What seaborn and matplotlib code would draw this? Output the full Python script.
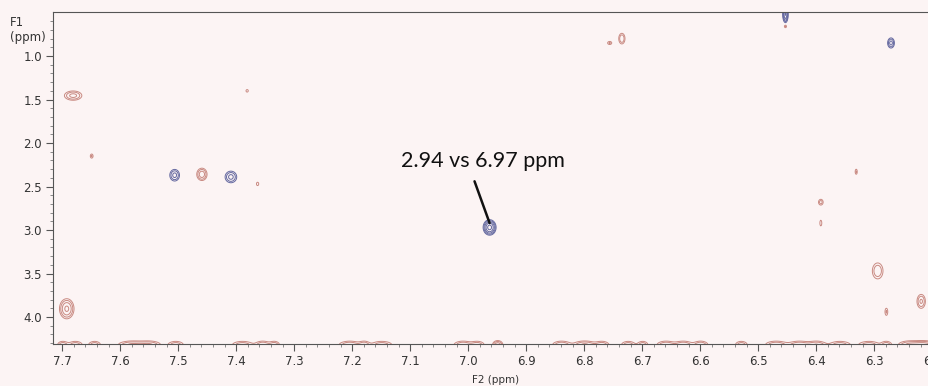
import numpy as np
import matplotlib
matplotlib.use("Agg")
import matplotlib.pyplot as plt
import seaborn as sns

# ---- data: cross peaks (F2 ppm, F1 ppm, sigma F2, sigma F1, amplitude) ----
red_f2  = [7.681, 7.692, 7.649, 7.459, 7.381, 6.735, 6.756, 6.453, 6.392, 6.392, 6.331, 6.294, 6.279, 6.219, 6.200, 7.363]
red_f1  = [1.455, 3.905, 2.150, 2.360, 1.400, 0.800, 0.850, 0.660, 2.680, 2.920, 2.330, 3.470, 3.940, 3.820, 1.610, 2.470]
red_sx  = [0.009, 0.0065, 0.002, 0.005, 0.002, 0.0035, 0.003, 0.0015, 0.003, 0.0015, 0.0015, 0.006, 0.002, 0.0045, 0.002, 0.002]
red_sy  = [0.032, 0.060, 0.020, 0.040, 0.015, 0.040, 0.015, 0.012, 0.025, 0.030, 0.025, 0.060, 0.035, 0.050, 0.030, 0.020]
red_amp = [1.0, 1.6, 0.5, 1.2, 0.4, 0.8, 0.5, 0.5, 0.6, 0.45, 0.5, 0.8, 0.5, 0.9, 0.5, 0.4]

blue_f2  = [6.963, 7.506, 7.409, 6.271, 6.453]
blue_f1  = [2.970, 2.370, 2.390, 0.850, 0.520]
blue_sx  = [0.005, 0.005, 0.006, 0.0035, 0.0022]
blue_sy  = [0.040, 0.040, 0.040, 0.035, 0.045]
blue_amp = [3.0, 1.0, 1.0, 1.0, 2.5]

# baseline (t1-noise) ridges along the bottom edge
base_f2  = [7.699, 7.677, 7.644, 7.579, 7.549, 7.504, 7.389, 7.354, 7.334,
            7.204, 7.179, 7.149, 7.009, 6.984, 6.949, 6.839, 6.799, 6.769,
            6.724, 6.699, 6.659, 6.629, 6.599, 6.529, 6.469, 6.429, 6.399,
            6.359, 6.309, 6.279, 6.239, 6.214]
base_sx  = [0.006, 0.008, 0.007, 0.015, 0.012, 0.009, 0.012, 0.008, 0.006,
            0.012, 0.006, 0.012, 0.010, 0.008, 0.005, 0.010, 0.012, 0.008,
            0.008, 0.006, 0.010, 0.010, 0.008, 0.007, 0.012, 0.012, 0.010,
            0.012, 0.012, 0.006, 0.012, 0.012]
base_amp = [0.7, 0.7, 0.7, 0.9, 0.8, 0.7, 0.7, 0.8, 0.7,
            0.8, 0.7, 0.7, 0.8, 0.7, 1.2, 0.8, 0.9, 0.7,
            0.7, 0.7, 0.8, 0.8, 0.8, 0.7, 0.8, 0.8, 0.8,
            0.7, 0.7, 0.7, 0.9, 1.1]

x_ticks = [7.7, 7.6, 7.5, 7.4, 7.3, 7.2, 7.1, 7.0, 6.9, 6.8, 6.7, 6.6, 6.5, 6.4, 6.3, 6.2]
y_ticks = [1.0, 1.5, 2.0, 2.5, 3.0, 3.5, 4.0]
annot_text = "2.94 vs 6.97 ppm"
annot_peak = (6.963, 2.92)
annot_line_start = (6.989, 2.44)
annot_text_pos = (6.975, 2.21)

# ---- figure ----
sns.set_style("ticks")
plt.rcParams['font.family'] = ['DejaVu Sans']
bg = "#fcf4f4"
fig = plt.figure(figsize=(9.29, 3.86), dpi=100, facecolor=bg)
ax = fig.add_axes([53/929, 1 - 344/386, 1 - 53/929 + 0.01, (344 - 12)/386])
ax.set_facecolor(bg)

gx = np.linspace(6.15, 7.75, 1600)
gy = np.linspace(0.40, 4.40, 900)
X, Y = np.meshgrid(gx, gy)

def surface(f2, f1, sx, sy, amp):
    Z = np.zeros_like(X)
    for a, b, c, d, e in zip(f2, f1, sx, sy, amp):
        Z += e * np.exp(-((X - a) ** 2 / (2 * c ** 2) + (Y - b) ** 2 / (2 * d ** 2)))
    return Z

Zr = surface(red_f2, red_f1, red_sx, red_sy, red_amp)
Zr += surface(base_f2, [4.32] * len(base_f2), base_sx, [0.028] * len(base_f2), base_amp)
Zb = surface(blue_f2, blue_f1, blue_sx, blue_sy, blue_amp)

levels = [0.25, 0.45, 0.8, 1.4, 2.4]
ax.contour(X, Y, Zr, levels=levels, colors="#c98a82", linewidths=0.7)
ax.contour(X, Y, Zb, levels=levels, colors="#6569a0", linewidths=0.7)

ax.set_xlim(7.7157, 6.1895)
ax.set_ylim(4.31, 0.494)

ax.set_xticks(x_ticks)
ax.set_xticklabels([f"{v:.1f}" for v in x_ticks])
ax.set_yticks(y_ticks)
ax.set_yticklabels([f"{v:.1f}" for v in y_ticks])
ax.set_xticks(np.arange(6.20, 7.71, 0.02), minor=True)
ax.set_yticks(np.arange(0.6, 4.31, 0.1), minor=True)
ax.tick_params(axis="both", which="major", length=5, width=0.8, color="#555555",
               labelsize=8.5, labelcolor="#333333", pad=3)
ax.tick_params(axis="both", which="minor", length=2.5, width=0.6, color="#777777")

for s in ["top", "left", "bottom"]:
    ax.spines[s].set_visible(True)
    ax.spines[s].set_color("#555555")
    ax.spines[s].set_linewidth(0.8)
ax.spines["right"].set_visible(False)

ax.set_xlabel("F2 (ppm)", fontsize=7.5, color="#333333", labelpad=5)
fig.text(10/929, 1 - 16/386, "F1\n(ppm)", fontsize=8.5, color="#333333",
         ha="left", va="top", linespacing=1.15)

ax.annotate("", xy=annot_peak, xytext=annot_line_start, textcoords="data",
            arrowprops=dict(arrowstyle="-", color="#111111", lw=1.8,
                            shrinkA=0, shrinkB=0))
ax.text(*annot_text_pos, annot_text, ha="center", va="center", fontsize=15.5,
        color="#111111", family=["Lato", "DejaVu Sans"])

fig.savefig("out.png", dpi=100, facecolor=bg)
